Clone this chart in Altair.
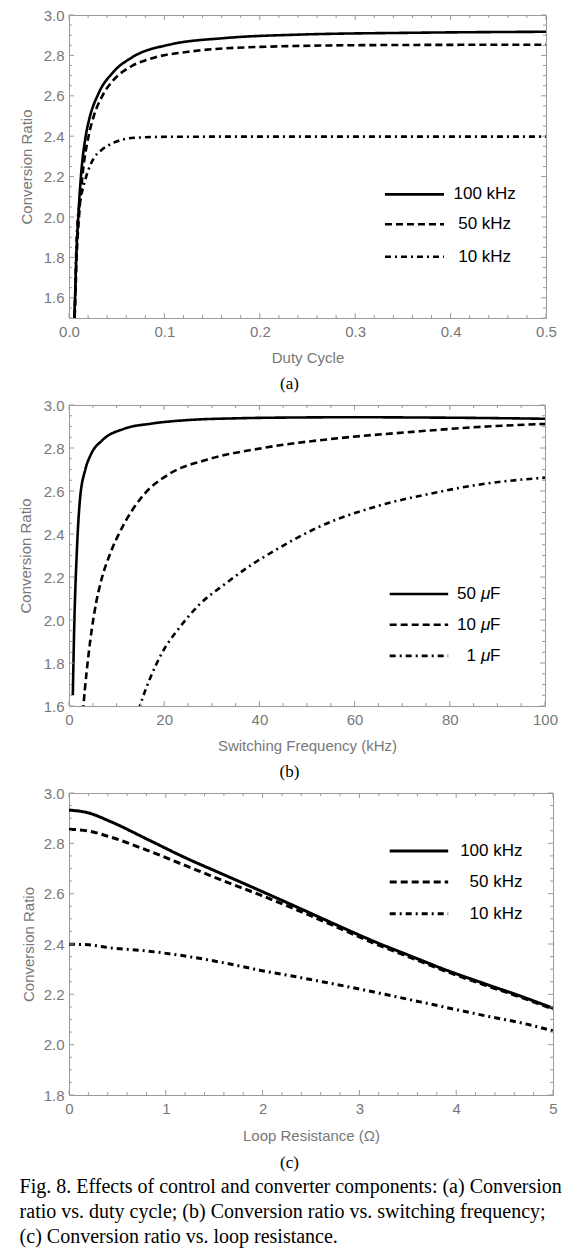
import altair as alt
import numpy as np
import pandas as pd

# ---------------- (a) Conversion ratio vs. duty cycle ----------------
a_names = ["100 kHz", "50 kHz", "10 kHz"]
a_x_100 = [0.0045, 0.0055, 0.0063, 0.0076, 0.0097, 0.0125, 0.0175, 0.021, 0.0308, 0.0465, 0.066, 0.105, 0.164, 0.242, 0.36, 0.5]
a_y_100 = [1.40, 1.50, 1.60, 1.80, 2.00, 2.20, 2.40, 2.48, 2.61, 2.718, 2.79, 2.853, 2.886, 2.903, 2.912, 2.917]
a_x_50 = [0.0047, 0.0058, 0.0066, 0.008, 0.0105, 0.014, 0.0205, 0.026, 0.035, 0.047, 0.065, 0.09, 0.125, 0.2, 0.32, 0.5]
a_y_50 = [1.40, 1.50, 1.60, 1.80, 2.00, 2.20, 2.40, 2.50, 2.60, 2.68, 2.745, 2.79, 2.818, 2.842, 2.851, 2.853]
a_x_10 = [0.005, 0.006, 0.0066, 0.0073, 0.0091, 0.0125, 0.0177, 0.0264, 0.033, 0.047, 0.068, 0.103, 0.2, 0.5]
a_y_10 = [1.40, 1.50, 1.62, 1.782, 1.98, 2.096, 2.195, 2.294, 2.327, 2.368, 2.392, 2.397, 2.398, 2.398]
a_xticks = [0.0, 0.1, 0.2, 0.3, 0.4, 0.5]
a_yticks = [1.6, 1.8, 2.0, 2.2, 2.4, 2.6, 2.8, 3.0]

# ---------------- (b) Conversion ratio vs. switching frequency ----------------
b_names = ["50 μF", "10 μF", "1 μF"]
b_numbers = ["50", "10", "1"]
b_x_50 = [0.8, 1.1, 1.65, 2.3, 3.43, 4.6, 6.95, 11.65, 17.2, 25, 35, 48.5, 60, 72, 85, 100]
b_y_50 = [1.65, 1.97, 2.32, 2.56, 2.70, 2.77, 2.835, 2.89, 2.913, 2.93, 2.938, 2.942, 2.943, 2.942, 2.940, 2.936]
b_x_10 = [2.75, 3.03, 4.2, 5.4, 6.95, 8.5, 11.65, 15.6, 21.1, 28.9, 40.7, 56.4, 72.1, 87.8, 100]
b_y_10 = [1.52, 1.60, 1.857, 2.043, 2.199, 2.30, 2.45, 2.58, 2.68, 2.745, 2.80, 2.845, 2.875, 2.90, 2.912]
b_x_1 = [14.6, 15.5, 17.15, 19.5, 23.4, 27.3, 32.8, 37.55, 43, 52.4, 64.2, 76, 87.8, 100]
b_y_1 = [1.58, 1.64, 1.735, 1.845, 1.97, 2.07, 2.168, 2.245, 2.32, 2.432, 2.526, 2.588, 2.635, 2.662]
b_xticks = [0, 20, 40, 60, 80, 100]
b_yticks = [1.6, 1.8, 2.0, 2.2, 2.4, 2.6, 2.8, 3.0]

# ---------------- (c) Conversion ratio vs. loop resistance ----------------
c_names = ["100 kHz", "50 kHz", "10 kHz"]
c_x = [0, 0.2, 0.42, 0.81, 1.2, 1.59, 1.98, 2.37, 2.75, 3.14, 3.53, 3.92, 4.31, 4.7, 5.0]
c_y_100 = [2.932, 2.921, 2.888, 2.816, 2.743, 2.677, 2.611, 2.544, 2.478, 2.412, 2.352, 2.293, 2.240, 2.188, 2.145]
c_y_50 = [2.856, 2.849, 2.826, 2.772, 2.712, 2.652, 2.594, 2.533, 2.470, 2.405, 2.346, 2.288, 2.235, 2.184, 2.141]
c_y_10 = [2.399, 2.397, 2.385, 2.372, 2.352, 2.326, 2.295, 2.268, 2.240, 2.210, 2.178, 2.146, 2.114, 2.084, 2.055]
c_xticks = [0, 1, 2, 3, 4, 5]
c_yticks = [1.8, 2.0, 2.2, 2.4, 2.6, 2.8, 3.0]

caption_lines = [
    "Fig. 8. Effects of control and converter components: (a) Conversion",
    "ratio vs. duty cycle; (b) Conversion ratio vs. switching frequency;",
    "(c) Conversion ratio vs. loop resistance.",
]

# ---------------- style ----------------
SANS = "Liberation Sans"
SERIF = "Liberation Serif"
GRAY = "#787878"
FRAME = "#9a9a9a"
DASHES = [[1, 0], [7, 4], [6, 4, 2, 4]]


def series_df(names, xs, ys):
    rows = []
    for n, xx, yy in zip(names, xs, ys):
        for i, (u, v) in enumerate(zip(xx, yy)):
            rows.append({"s": n, "x": u, "y": v, "i": i})
    return pd.DataFrame(rows)


def minor_ticks(lo, hi, step, majors):
    vals = np.round(np.arange(lo, hi + step / 2, step), 6)
    return [float(v) for v in vals if not any(abs(v - m) < 1e-9 for m in majors)]


def panel(df, names, xdom, ydom, W, H, xmaj, xstep, ymaj, ystep, xfmt, xtitle,
          ytitle_x, xtitle_y, sub_y, leg_lines, sub, sw, text_layers_fn, extra=()):
    xs = alt.Scale(domain=xdom, nice=False, zero=False)
    ys = alt.Scale(domain=ydom, nice=False, zero=False)
    xaxis = alt.Axis(values=xmaj, format=xfmt, labelFont=SANS, labelFontSize=15,
                     labelColor=GRAY, labelPadding=6, labelFlush=False, labelOverlap=False,
                     ticks=False, tickSize=0, domain=False, grid=False, title=xtitle,
                     titleFont=SANS, titleFontSize=15, titleFontWeight="normal",
                     titleColor=GRAY, titleY=xtitle_y, titleBaseline="middle")
    yaxis = alt.Axis(values=ymaj, format=".1f", labelFont=SANS, labelFontSize=15,
                     labelColor=GRAY, labelPadding=5, labelFlush=False, labelOverlap=False,
                     ticks=False, tickSize=0, domain=False, grid=False,
                     title="Conversion Ratio", titleFont=SANS, titleFontSize=15,
                     titleFontWeight="normal", titleColor=GRAY, titleX=ytitle_x,
                     titleY=H / 2, titleAngle=-90, titleBaseline="middle", titleAlign="center")
    X = lambda f: alt.X(f, scale=xs, axis=xaxis)
    Y = lambda f: alt.Y(f, scale=ys, axis=yaxis)
    dash = alt.StrokeDash("s:N", scale=alt.Scale(domain=names, range=DASHES), legend=None)

    lines = alt.Chart(df).mark_line(
        color="black", strokeWidth=sw, clip=True, interpolate="monotone", strokeCap="butt"
    ).encode(x=X("x:Q"), y=Y("y:Q"), strokeDash=dash, order="i:Q")

    layers = [lines]
    # inward frame ticks on all four sides
    xmin = minor_ticks(xdom[0], xdom[1], xstep, xmaj)
    ymin = minor_ticks(ydom[0], ydom[1], ystep, ymaj)
    for vals, ln in ((xmaj, 5), (xmin, 3)):
        d = pd.DataFrame({"v": vals})
        base = alt.Chart(d).mark_rule(color=FRAME, strokeWidth=1)
        layers.append(base.encode(x=X("v:Q"), y=alt.value(H), y2=alt.value(H - ln)))
        layers.append(base.encode(x=X("v:Q"), y=alt.value(0), y2=alt.value(ln)))
    for vals, ln in ((ymaj, 5), (ymin, 3)):
        d = pd.DataFrame({"v": vals})
        base = alt.Chart(d).mark_rule(color=FRAME, strokeWidth=1)
        layers.append(base.encode(y=Y("v:Q"), x=alt.value(0), x2=alt.value(ln)))
        layers.append(base.encode(y=Y("v:Q"), x=alt.value(W), x2=alt.value(W - ln)))

    # legend (drawn in data space)
    leg = pd.DataFrame({"s": names, "x1": leg_lines[0], "x2": leg_lines[1], "y": leg_lines[2]})
    layers.append(alt.Chart(leg).mark_rule(color="black", strokeWidth=sw, strokeCap="butt").encode(
        x=X("x1:Q"), x2="x2:Q", y=Y("y:Q"), strokeDash=dash))
    layers.extend(text_layers_fn(X, Y))

    # sub-figure label
    layers.append(alt.Chart(pd.DataFrame({"t": [sub]})).mark_text(
        font=SERIF, fontSize=17, color="black", align="center", baseline="middle"
    ).encode(x=alt.value(220.5), y=alt.value(H + sub_y), text="t:N"))
    layers.extend(extra)
    return alt.layer(*layers).properties(width=W, height=H)


def simple_legend_text(labels, xt, yv, align):
    def fn(X, Y):
        d = pd.DataFrame({"label": labels, "xt": xt, "y": yv})
        return [alt.Chart(d).mark_text(font=SANS, fontSize=17, color="black", align=align,
                                       baseline="middle").encode(x=X("xt:Q"), y=Y("y:Q"), text="label:N")]
    return fn


def micro_legend_text(numbers, xt, yv):
    def fn(X, Y):
        d = pd.DataFrame({"n": numbers, "xt": xt, "y": yv, "mu": ["μ"] * 3, "F": ["F"] * 3})
        base = alt.Chart(d)
        kw = dict(color="black", align="right", baseline="middle", fontSize=17)
        return [
            base.mark_text(font=SANS, dx=-24.5, **kw).encode(x=X("xt:Q"), y=Y("y:Q"), text="n:N"),
            base.mark_text(font=SANS, fontStyle="italic", dx=-10.2, **kw).encode(x=X("xt:Q"), y=Y("y:Q"), text="mu:N"),
            base.mark_text(font=SANS, **kw).encode(x=X("xt:Q"), y=Y("y:Q"), text="F:N"),
        ]
    return fn


# ---- panel (a)
df_a = series_df(a_names, [a_x_100, a_x_50, a_x_10], [a_y_100, a_y_50, a_y_10])
pa = panel(df_a, a_names, [0, 0.5], [1.5, 3.0], 477, 303, a_xticks, 0.02, a_yticks, 0.05,
           ".1f", "Duty Cycle", -43, 39, 66,
           ([0.3312] * 3, [0.3931] * 3, [2.112, 1.964, 1.803]), "(a)", 2.6,
           simple_legend_text(a_names, [0.4357] * 3, [2.112, 1.964, 1.803], "center"))

# ---- panel (b)
df_b = series_df(b_names, [b_x_50, b_x_10, b_x_1], [b_y_50, b_y_10, b_y_1])
pb = panel(df_b, b_names, [0, 100], [1.6, 3.0], 476, 301, b_xticks, 5, b_yticks, 0.05,
           "d", "Switching Frequency (kHz)", -44, 39, 66,
           ([67.37] * 3, [79.66] * 3, [2.121, 1.978, 1.833]), "(b)", 2.6,
           micro_legend_text(b_numbers, [90.65] * 3, [2.121, 1.978, 1.833]))

# ---- panel (c)
df_c = series_df(c_names, [c_x] * 3, [c_y_100, c_y_50, c_y_10])
caption = alt.Chart(pd.DataFrame({"t": [0]})).mark_text(
    text=caption_lines, font=SERIF, fontSize=20, color="black", align="left",
    baseline="alphabetic", lineHeight=25
).encode(x=alt.value(-49.4), y=alt.value(302 + 98))
pc = panel(df_c, c_names, [0, 5], [1.8, 3.0], 484, 302, c_xticks, 0.2, c_yticks, 0.05,
           "d", "Loop Resistance (Ω)", -41, 40, 68,
           ([3.313] * 3, [3.917] * 3, [2.770, 2.646, 2.520]), "(c)", 3.0,
           simple_legend_text(c_names, [4.685] * 3, [2.770, 2.646, 2.520], "right"),
           extra=(caption,))

chart = alt.vconcat(pa, pb, pc, spacing=87, bounds="flush").properties(
    padding={"left": 9, "top": -1, "right": 0, "bottom": 0}
).configure_view(stroke=FRAME, strokeWidth=1)

chart.save("out.html", embed_options={"renderer": "svg", "actions": False})
